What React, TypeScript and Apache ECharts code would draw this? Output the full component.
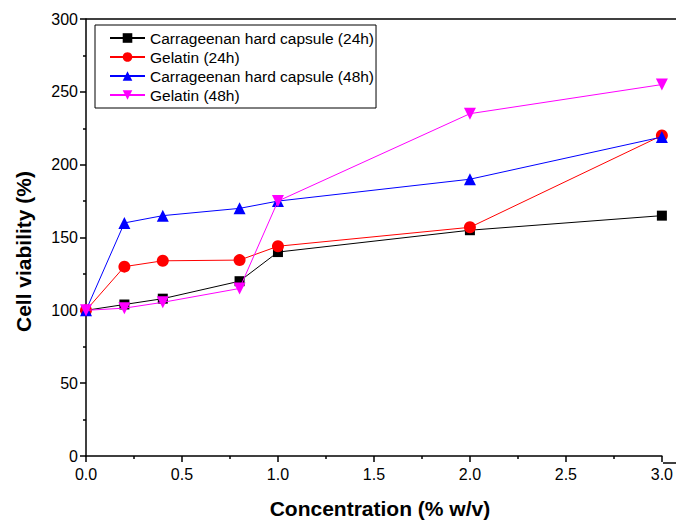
import React, { useEffect, useRef } from "react";
import * as echarts from "echarts";

const concentrations = [0, 0.2, 0.4, 0.8, 1.0, 2.0, 3.0];
const carrageenan24 = [100, 104, 108, 120, 140, 155, 165];
const gelatin24 = [100, 130, 134, 134.5, 144, 157, 220];
const carrageenan48 = [100, 160, 165, 170, 175, 190, 219];
const gelatin48 = [100, 101.5, 105.5, 115, 175, 235, 255];

const seriesNames = [
  "Carrageenan hard capsule (24h)",
  "Gelatin (24h)",
  "Carrageenan hard capsule (48h)",
  "Gelatin (48h)",
];
const seriesColors = ["#000000", "#ff0000", "#0000ff", "#ff00ff"];
const seriesSymbols = ["rect", "circle", "triangle", "path://M0,0 L10,0 L5,10 Z"];
const seriesSizes = [10, 12, 12, 12];

const FONT = "Liberation Sans, Arial, sans-serif";

export default function App() {
  const ref = useRef<HTMLDivElement>(null);
  useEffect(() => {
    if (!ref.current) return;
    const chart = echarts.init(ref.current, null, { renderer: "svg" });
    const all = [carrageenan24, gelatin24, carrageenan48, gelatin48];
    const series = all.map((vals, i) => ({
      name: seriesNames[i],
      type: "line",
      data: concentrations.map((c, j) => [c, vals[j]]),
      symbol: seriesSymbols[i],
      symbolSize: seriesSizes[i],
      symbolKeepAspect: true,
      lineStyle: { color: seriesColors[i], width: 1 },
      itemStyle: { color: seriesColors[i] },
      z: 2 + i,
    }));
    chart.setOption({
      animation: false,
      backgroundColor: "#ffffff",
      textStyle: { fontFamily: FONT },
      grid: { left: 86, top: 19, right: 13, bottom: 61, containLabel: false },
      legend: {
        orient: "vertical",
        left: 95,
        top: 25,
        borderColor: "#000",
        borderWidth: 1,
        borderRadius: 0,
        padding: [5, 2, 5, 14],
        itemWidth: 35,
        itemHeight: 12,
        itemGap: 3,
        textStyle: { fontSize: 15.5, color: "#000", fontFamily: FONT },
        data: seriesNames,
      },
      xAxis: {
        type: "value",
        min: 0,
        max: 3,
        interval: 0.5,
        name: "Concentration (% w/v)",
        nameLocation: "middle",
        nameGap: 42,
        nameTextStyle: { fontSize: 21, fontWeight: "bold", color: "#000", fontFamily: FONT, padding: [0, 0, 0, 12] },
        axisLine: { show: true, lineStyle: { color: "#000", width: 1.5 } },
        axisTick: { show: true, inside: false, length: 6, lineStyle: { color: "#000", width: 1.5 } },
        minorTick: { show: true, splitNumber: 2, length: 3, lineStyle: { color: "#000", width: 1.5 } },
        axisLabel: { fontSize: 16, color: "#000", margin: 10, fontFamily: FONT, formatter: (v: number) => v.toFixed(1) },
        splitLine: { show: false },
      },
      yAxis: {
        type: "value",
        min: 0,
        max: 300,
        interval: 50,
        name: "Cell viability (%)",
        nameLocation: "middle",
        nameGap: 52,
        nameTextStyle: { fontSize: 21, fontWeight: "bold", color: "#000", fontFamily: FONT, padding: [0, 28, 0, 0] },
        axisLine: { show: true, lineStyle: { color: "#000", width: 1.5 } },
        axisTick: { show: true, inside: false, length: 6, lineStyle: { color: "#000", width: 1.5 } },
        minorTick: { show: true, splitNumber: 2, length: 3, lineStyle: { color: "#000", width: 1.5 } },
        axisLabel: { fontSize: 16, color: "#000", margin: 8, fontFamily: FONT },
        splitLine: { show: false },
      },
      graphic: [
        {
          type: "line",
          shape: { x1: 86, y1: 19, x2: 676, y2: 19 },
          style: { stroke: "#000", lineWidth: 1.5 },
          silent: true,
        },
        {
          type: "line",
          shape: { x1: 663, y1: 463, x2: 676, y2: 463 },
          style: { stroke: "#000", lineWidth: 1.5 },
          silent: true,
        },
      ],
      series,
    });
    return () => chart.dispose();
  }, []);
  return (
    <div
      ref={ref}
      style={{ position: "absolute", left: 0, top: 0, width: 676, height: 524 }}
    />
  );
}
